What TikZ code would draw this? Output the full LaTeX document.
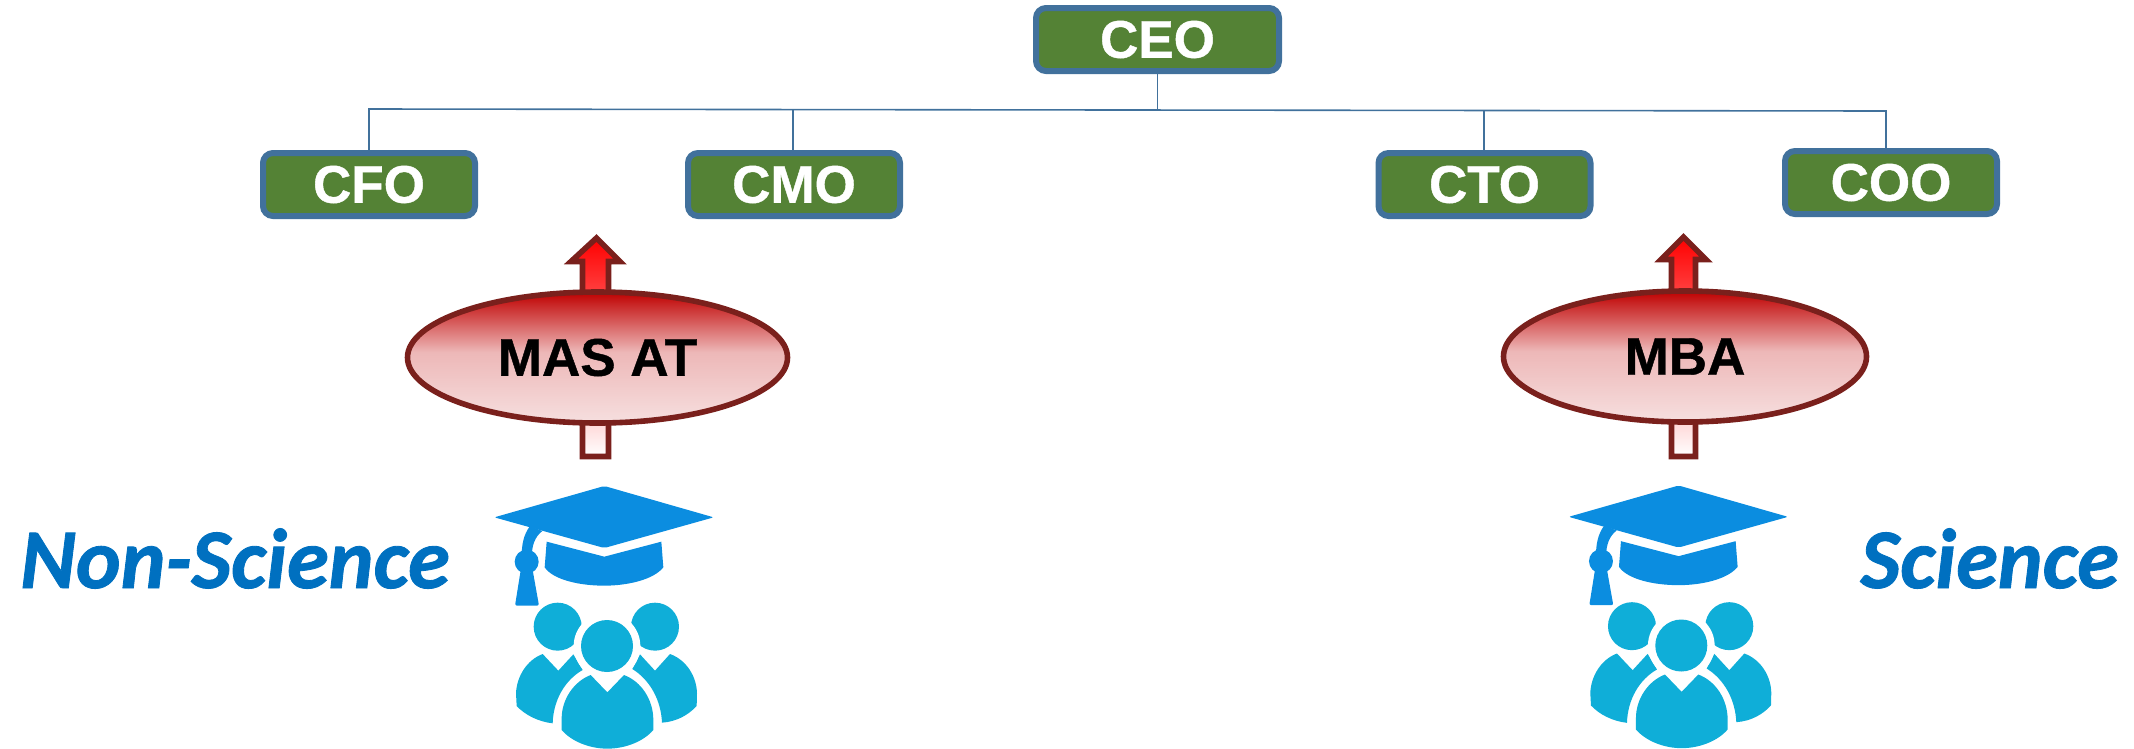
\documentclass[tikz,border=0pt]{standalone}
\usepackage{fontspec}
\setmainfont{Liberation Sans}[BoldFeatures={FakeBold=0.8}]
\newfontfamily\calfont{Carlito}[BoldItalicFeatures={FakeBold=1}]
\usetikzlibrary{shapes.geometric}
\definecolor{boxgreen}{HTML}{548235}
\definecolor{boxblue}{HTML}{41719C}
\definecolor{darkred}{HTML}{7A201C}
\definecolor{capblue}{HTML}{0B8DE0}
\definecolor{peopleblue}{HTML}{0FAED8}
\definecolor{labelblue}{HTML}{0070C0}
\pgfdeclareverticalshading{ellgrad}{100bp}{
  rgb(0bp)=(0.965,0.875,0.875);
  rgb(25bp)=(0.965,0.875,0.875);
  rgb(52bp)=(0.93,0.72,0.72);
  rgb(75bp)=(0.75,0,0);
  rgb(100bp)=(0.75,0,0)}
\tikzset{
  rolebox/.style={draw=boxblue,line width=6pt,fill=boxgreen,rounded corners=10pt,
    minimum width=212pt,minimum height=63pt,inner sep=0pt,text=white,
    font=\fontsize{53}{53}\selectfont\bfseries},
  wire/.style={draw=boxblue,line width=1.6pt},
  degree/.style={draw=darkred,line width=5.6pt,shape=ellipse,inner sep=0pt,shading=ellgrad,
    minimum height=131pt,font=\fontsize{53}{53}\selectfont\bfseries,text=black},
  upshaft/.style={draw=darkred,line width=5.6pt,miter limit=10,top color=red,bottom color=white},
  side/.style={text=labelblue,inner sep=0pt,font=\fontsize{85}{85}\selectfont\calfont\bfseries\itshape},
  gradicon/.pic={
    \begin{scope}[scale=1/3]
      \fill[capblue,rounded corners=2pt] (403,48) -- (731,142) -- (403,234) -- (73,142) -- cycle;
      \fill[capblue] (230,215) -- (403,260) -- (574,215) -- (580,292) .. controls (550,330) and (470,347) .. (403,347)
         .. controls (330,347) and (250,330) .. (224,292) -- cycle;
      \fill[capblue] (180,168) .. controls (160,195) and (155,225) .. (155,260) -- (185,260)
         .. controls (186,225) and (195,200) .. (217,183) -- cycle;
      \fill[capblue] (170,275) circle (36);
      \fill[capblue,rounded corners=2pt] (153,295) -- (187,295) -- (207,407) -- (135,407) -- cycle;
      \fill[peopleblue] (263,470) circle (72);
      \fill[peopleblue] (555,470) circle (72);
      \fill[peopleblue] (218,552) -- (265,602) -- (310,553) -- (338,600) .. controls (285,630) and (250,690) .. (248,760)
         .. controls (205,755) and (165,735) .. (140,708) -- (138,670) .. controls (140,620) and (170,570) .. (218,552) -- cycle;
      \fill[peopleblue] (600,552) -- (555,602) -- (510,553) -- (487,597) .. controls (540,630) and (573,690) .. (576,758)
         .. controls (620,755) and (655,735) .. (680,708) -- (681,670) .. controls (680,620) and (650,570) .. (600,552) -- cycle;
      \fill[white] (411,528) circle (100);
      \fill[peopleblue] (411,528) circle (78);
      \fill[peopleblue] (362,615) -- (412,667) -- (462,615) .. controls (515,635) and (550,690) .. (550,750) -- (550,780)
         .. controls (520,815) and (465,836) .. (412,836) .. controls (360,836) and (305,815) .. (275,780) -- (275,745)
         .. controls (275,690) and (310,635) .. (362,615) -- cycle;
    \end{scope}
  }
}
\begin{document}
\begin{tikzpicture}[x=1pt,y=-1pt]
\useasboundingbox (0,0) rectangle (2134,748);
% arrows (under the ellipses)
\draw[upshaft] (596.5,238) -- (620,261.5) -- (608.5,261.5) -- (608.5,456.5) -- (582.5,456.5) -- (582.5,261.5) -- (571,261.5) -- cycle;
\draw[upshaft] (1683.5,237) -- (1706,259.5) -- (1695.5,259.5) -- (1695.5,456.5) -- (1671.5,456.5) -- (1671.5,259.5) -- (1661,259.5) -- cycle;
% nodes
\node[rolebox,minimum width=243pt] (ceo) at (1157.5,39.5) {CEO};
\node[rolebox] (cfo) at (369,184.5) {CFO};
\node[rolebox] (cmo) at (794,184.5) {CMO};
\node[rolebox] (cto) at (1484.5,184.5) {CTO};
\node[rolebox] (coo) at (1891,182.5) {COO};
\coordinate (busl) at (369,109);
\coordinate (busr) at (1886,111);
\coordinate (busc) at (1157.5,110);
\coordinate (busm) at (793,109.5);
\coordinate (bust) at (1484,110.3);
\draw[wire] (cfo.north) -- (busl) -- (busr) -- (busr |- coo.north);
\draw[wire] (ceo.south) -- (busc);
\draw[wire] (busm) -- (busm |- cmo.north);
\draw[wire] (bust) -- (bust |- cto.north);
\node[degree,minimum width=380pt] (mas) at (597.5,357.5) {MAS AT};
\node[degree,minimum width=363pt] (mba) at (1685,356.5) {MBA};
\node[side,anchor=base west] (nons) at (20,588) {Non-Science};
\node[side,anchor=base east] (sci) at (2119,588) {Science};
\pic at (470,470) {gradicon};
\pic at (1544.3,469.5) {gradicon};
\end{tikzpicture}
\end{document}
